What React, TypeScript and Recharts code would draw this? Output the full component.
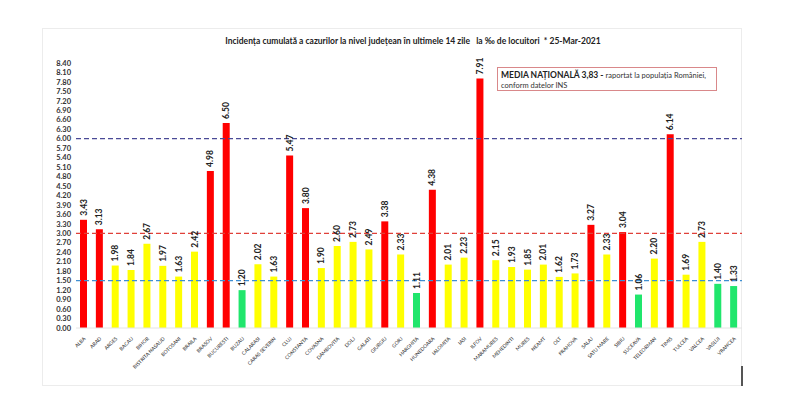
import { BarChart, Bar, XAxis, YAxis, ReferenceLine, LabelList, Cell } from "recharts";

const counties = [
  "ALBA", "ARAD", "ARGES", "BACAU", "BIHOR", "BISTRITA NASAUD", "BOTOSANI", "BRAILA",
  "BRASOV", "BUCURESTI", "BUZAU", "CALARASI", "CARAS SEVERIN", "CLUJ", "CONSTANTA",
  "COVASNA", "DAMBOVITA", "DOLJ", "GALATI", "GIURGIU", "GORJ", "HARGHITA", "HUNEDOARA",
  "IALOMITA", "IASI", "ILFOV", "MARAMURES", "MEHEDINTI", "MURES", "NEAMT", "OLT",
  "PRAHOVA", "SALAJ", "SATU MARE", "SIBIU", "SUCEAVA", "TELEORMAN", "TIMIS", "TULCEA",
  "VALCEA", "VASLUI", "VRANCEA",
];

const incidence = [
  3.43, 3.13, 1.98, 1.84, 2.67, 1.97, 1.63, 2.42, 4.98, 6.5, 1.2, 2.02, 1.63, 5.47, 3.8,
  1.9, 2.6, 2.73, 2.49, 3.38, 2.33, 1.11, 4.38, 2.01, 2.23, 7.91, 2.15, 1.93, 1.85, 2.01,
  1.62, 1.73, 3.27, 2.33, 3.04, 1.06, 2.2, 6.14, 1.69, 2.73, 1.4, 1.33,
];

const yTicks = [
  0, 0.3, 0.6, 0.9, 1.2, 1.5, 1.8, 2.1, 2.4, 2.7, 3.0, 3.3, 3.6, 3.9, 4.2, 4.5, 4.8, 5.1,
  5.4, 5.7, 6.0, 6.3, 6.6, 6.9, 7.2, 7.5, 7.8, 8.1, 8.4,
];

// praguri: 1,5 / 3 / 6 la mie
const thresholds = [
  { y: 6, color: "#4a4a96" },
  { y: 3, color: "#e0403a" },
  { y: 1.5, color: "#3f8fd2" },
];

const data = counties.map((name, i) => ({ name, value: incidence[i] }));

const barColor = (v: number) => (v >= 3 ? "#ff0000" : v >= 1.5 ? "#ffff00" : "#20e66c");

const FONT = "Lato, 'Liberation Sans', sans-serif";

function CountyTick(props: any) {
  const { x, y, payload } = props;
  return (
    <text
      transform={`translate(${x + 2},${y + 3}) rotate(-45)`}
      textAnchor="end"
      fontSize={5}
      fontFamily={FONT}
      fill="#333"
    >
      {payload.value}
    </text>
  );
}

function ValueLabel(props: any) {
  const { x, y, width, value } = props;
  return (
    <text
      transform={`translate(${x + width / 2 + 3},${y - 4}) rotate(-90)`}
      textAnchor="start"
      fontSize={8.5}
      fontWeight="bold"
      fontFamily={FONT}
      fill="#222"
    >
      {Number(value).toFixed(2)}
    </text>
  );
}

export default function App() {
  return (
    <div
      style={{
        position: "absolute",
        left: 0,
        top: 0,
        width: 800,
        height: 418,
        background: "#fff",
        fontFamily: FONT,
      }}
    >
      <div
        style={{
          position: "absolute",
          left: 42,
          top: 28,
          width: 698,
          height: 356,
          border: "1px solid #ececec",
        }}
      />
      <div
        style={{
          position: "absolute",
          left: 0,
          width: 826,
          top: 36,
          textAlign: "center",
          fontSize: 8.5,
          fontWeight: "bold",
          color: "#222",
          whiteSpace: "pre",
        }}
      >
        {"Incidența cumulată a cazurilor la nivel județean în ultimele 14 zile   la ‰ de locuitori  * 25-Mar-2021"}
      </div>
      <div style={{ position: "absolute", left: 0, top: 0 }}>
        <BarChart
          width={800}
          height={418}
          data={data}
          margin={{ top: 63, right: 58, bottom: 60, left: 46 }}
        >
          <XAxis
            dataKey="name"
            interval={0}
            height={30}
            tick={<CountyTick />}
            tickLine={false}
            axisLine={{ stroke: "#e4e4e4" }}
          />
          <YAxis
            width={30}
            domain={[0, 8.4]}
            ticks={yTicks}
            interval={0}
            tickFormatter={(v: number) => v.toFixed(2)}
            tick={{ fontSize: 7.5, fontWeight: "bold", fill: "#333", fontFamily: FONT }}
            tickSize={0}
            tickMargin={5}
            axisLine={false}
            tickLine={false}
          />
          <Bar dataKey="value" barSize={7} isAnimationActive={false}>
            {data.map((d) => (
              <Cell key={d.name} fill={barColor(d.value)} />
            ))}
            <LabelList dataKey="value" content={<ValueLabel />} />
          </Bar>
          {thresholds.map((t) => (
            <ReferenceLine
              key={t.y}
              y={t.y}
              stroke={t.color}
              strokeWidth={1.2}
              strokeDasharray="5 3"
            />
          ))}
        </BarChart>
      </div>
      <div
        style={{
          position: "absolute",
          left: 497,
          top: 67,
          width: 212,
          height: 18,
          padding: "2px 3px",
          border: "1px solid #d9888a",
          background: "#fff",
          fontSize: 7.5,
          lineHeight: "10px",
          color: "#333",
        }}
      >
        <span style={{ fontWeight: "bold", fontSize: 8.5, color: "#222" }}>MEDIA NAȚIONALĂ 3,83 - </span>
        raportat la populația României,
        <br />
        conform datelor INS
      </div>
      <div
        style={{
          position: "absolute",
          left: 741,
          top: 366,
          width: 1.5,
          height: 20,
          background: "#555",
        }}
      />
    </div>
  );
}
